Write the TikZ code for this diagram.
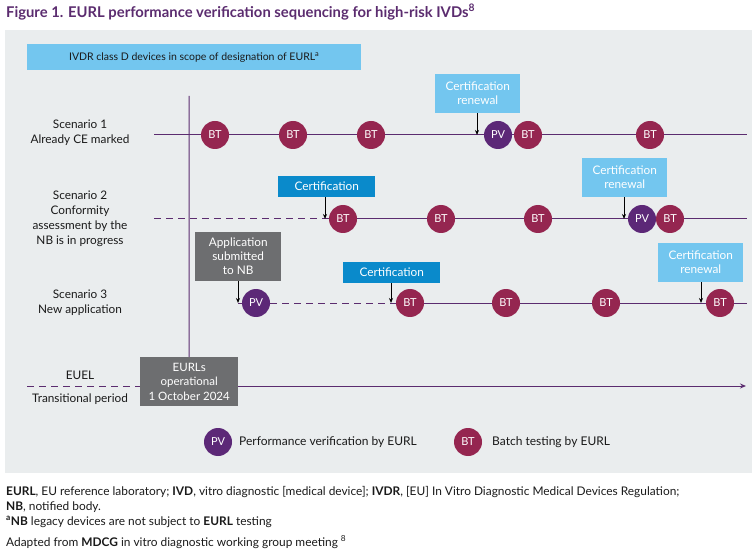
\documentclass[tikz,border=0pt]{standalone}
\usepackage{fontspec}
\setmainfont{Lato}
\usetikzlibrary{arrows.meta}
\definecolor{panel}{HTML}{EAEDEE}
\definecolor{lineP}{HTML}{5B2C6F}
\definecolor{btc}{HTML}{952650}
\definecolor{pvc}{HTML}{5C2877}
\definecolor{lblue}{HTML}{73C6EF}
\definecolor{dblue}{HTML}{0A8ACB}
\definecolor{gbox}{HTML}{6D6E70}
\definecolor{titlec}{HTML}{5B2C6F}
\definecolor{txt}{HTML}{1A1A1A}
\pgfdeclarelayer{bg}\pgfdeclarelayer{ln}\pgfsetlayers{bg,ln,main}
\begin{document}
\begin{tikzpicture}[x=1pt,y=-1pt,
  bt/.style={circle, fill=btc, minimum size=28pt, inner sep=0pt, text=white, font=\fontsize{11}{12}\selectfont},
  pv/.style={bt, fill=pvc},
  tbox/.style={rectangle, anchor=north west, inner sep=0pt, text=white, align=center, font=\fontsize{11.8}{14}\selectfont},
  lbl/.style={text=txt, align=center, font=\fontsize{11.8}{15}\selectfont},
  tl/.style={draw=lineP, line width=1pt},
  dl/.style={tl, dash pattern=on 7pt off 5pt},
  arr/.style={draw=black, line width=0.9pt, -{Stealth[length=5pt,width=4pt]}},
  foot/.style={anchor=west, text=txt, inner sep=0pt, font=\fontsize{11.9}{13}\selectfont}]
\useasboundingbox (0,0) rectangle (752,553);
\begin{pgfonlayer}{bg}
\fill[panel] (5,30) rectangle (752,473);
\end{pgfonlayer}
% title
\node[anchor=west, inner sep=0pt, text=titlec, font=\fontsize{14.8}{16}\selectfont\bfseries] (title) at (6,12) {Figure 1. EURL performance verification sequencing for high-risk IVDs\textsuperscript{8}};
% scope box
\node[tbox, fill=lblue, text=txt, minimum width=334pt, minimum height=26pt, font=\fontsize{10.5}{12}\selectfont] (scope) at (27,44) {IVDR class D devices in scope of designation of EURL\textsuperscript{a}};
% scenario labels
\node[lbl] (s1l) at (80,133) {Scenario 1\\Already CE marked};
\node[lbl] (s2l) at (80,219) {Scenario 2\\Conformity\\assessment by the\\NB is in progress};
\node[lbl] (s3l) at (80,303) {Scenario 3\\New application};
\node[lbl] (euel) at (80,375) {EUEL};
\node[lbl] (trans) at (80,399) {Transitional period};
% coordinates
\coordinate (vtop) at (189,96);
\coordinate (s1a) at (154,135); \coordinate (s1b) at (747,135);
\coordinate (s2a) at (154,219); \coordinate (s2c) at (325,219); \coordinate (s2b) at (747,219);
\coordinate (s3a) at (238,303); \coordinate (s3c) at (391,303); \coordinate (s3b) at (747,303);
\coordinate (ea) at (27,386); \coordinate (eb) at (746,386);
\coordinate (a1) at (477,135); \coordinate (a2) at (624,219); \coordinate (a3) at (701,303);
% EURL box
\node[tbox, fill=gbox, minimum width=98pt, minimum height=49pt, font=\fontsize{11.5}{14.5}\selectfont] (eurl) at (140,357) {EURLs\\operational\\1 October 2024};
% boxes
\node[tbox, fill=lblue, minimum width=85pt, minimum height=39pt] (cr1) at (435,74) {Certification\\renewal};
\node[tbox, fill=lblue, minimum width=85pt, minimum height=39pt] (cr2) at (582,158) {Certification\\renewal};
\node[tbox, fill=lblue, minimum width=85pt, minimum height=39pt] (cr3) at (658,243) {Certification\\renewal};
\node[tbox, fill=dblue, minimum width=97pt, minimum height=21pt] (c2) at (278,176) {Certification};
\node[tbox, fill=dblue, minimum width=97pt, minimum height=21pt] (c3) at (343,262) {Certification};
\node[tbox, fill=gbox, minimum width=86pt, minimum height=49pt] (app) at (195,232) {Application\\submitted\\to NB};
% circles
\node[bt] (b11) at (215,135) {BT};
\node[bt] (b12) at (293,135) {BT};
\node[bt] (b13) at (371,135) {BT};
\node[pv] (p1) at (498,135) {PV};
\node[bt] (b14) at (528,135) {BT};
\node[bt] (b15) at (650,135) {BT};
\node[bt] (b21) at (343,219) {BT};
\node[bt] (b22) at (441,219) {BT};
\node[bt] (b23) at (538,219) {BT};
\node[pv] (p2) at (642,219) {PV};
\node[bt] (b24) at (670,219) {BT};
\node[pv] (p3) at (256,303) {PV};
\node[bt] (b31) at (410,303) {BT};
\node[bt] (b32) at (506,303) {BT};
\node[bt] (b33) at (606,303) {BT};
\node[bt] (b34) at (720,303) {BT};
% lines
\begin{pgfonlayer}{ln}
\draw[tl] (vtop) -- (eurl.north);
\draw[tl] (s1a) -- (s1b);
\draw[dl] (s2a) -- (s2c);
\draw[tl] (s2c) -- (s2b);
\draw[tl] (s3a) -- (p3);
\draw[dl] (p3) -- (s3c);
\draw[tl] (s3c) -- (s3b);
\draw[dl] (ea) -- (eurl.west |- ea);
\draw[tl, -{Stealth[length=6pt,width=5pt]}] (eurl.east |- eb) -- (eb);
\end{pgfonlayer}
% arrows
\draw[arr] (cr1.south -| a1) -- (a1);
\draw[arr] (cr2.south -| a2) -- (a2);
\draw[arr] (cr3.south -| a3) -- (a3);
\draw[arr] (c2.south -| s2c) -- (s2c);
\draw[arr] (c3.south -| s3c) -- (s3c);
\draw[arr] (app.south -| s3a) -- (s3a);
% legend
\node[pv] (lpv) at (218,442) {PV};
\node[anchor=west, inner sep=0pt, text=txt, font=\fontsize{12}{13}\selectfont] (lpvt) at (239,442) {Performance verification by EURL};
\node[bt] (lbt) at (468,442) {BT};
\node[anchor=west, inner sep=0pt, text=txt, font=\fontsize{12}{13}\selectfont] (lbtt) at (492,442) {Batch testing by EURL};
% footnotes
\node[foot] (f1) at (6,492) {\textbf{EURL}, EU reference laboratory; \textbf{IVD}, vitro diagnostic [medical device]; \textbf{IVDR}, [EU] In Vitro Diagnostic Medical Devices Regulation;};
\node[foot] (f2) at (6,507) {\textbf{NB}, notified body.};
\node[foot] (f3) at (6,522) {\textsuperscript{\textbf{a}}\textbf{NB} legacy devices are not subject to \textbf{EURL} testing};
\node[foot] (f4) at (6,542) {Adapted from \textbf{MDCG} in vitro diagnostic working group meeting \textsuperscript{8}};
\end{tikzpicture}
\end{document}
